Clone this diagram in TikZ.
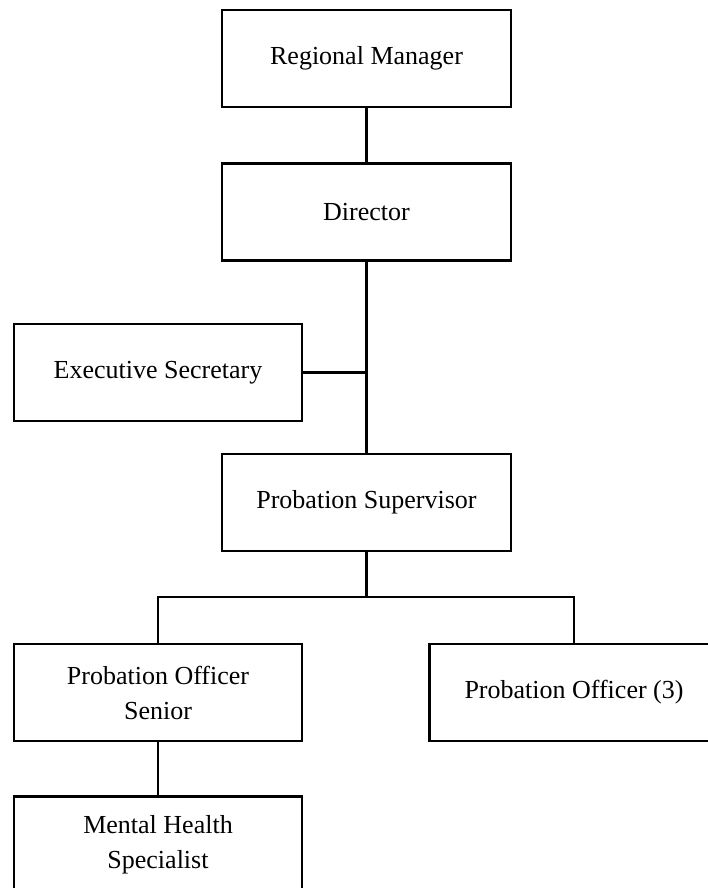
\documentclass[tikz,border=0pt]{standalone}
\usepackage{fontspec}
\setmainfont{Liberation Serif}

\begin{document}
\begin{tikzpicture}[x=1pt,y=1pt]
\tikzstyle{post}=[rectangle, draw, line width=2.4pt, minimum width=289pt, minimum height=97pt, inner sep=0pt, align=center, font=\fontsize{26}{35}\selectfont]
\tikzstyle{link}=[line width=2.4pt]
\useasboundingbox (0,0) rectangle (707,-888);

\node[post] (manager) at (366.5,-58.5) {Regional Manager};
\node[post] (director) at (366.5,-212) {Director};
\node[post, minimum width=288pt] (secretary) at (158,-372.5) {Executive Secretary};
\node[post] (supervisor) at (366.5,-502.5) {Probation Supervisor};
\node[post, minimum width=288pt] (senior) at (158,-692.5) {Probation Officer\\Senior};
\node[post] (officers) at (574,-692.5) {Probation Officer (3)};
\node[post, minimum width=288pt] (health) at (158,-845) {Mental Health\\Specialist};

\coordinate (split) at (366.5,-597);

\draw[link] (manager) -- (director);
\draw[link] (director) -- (supervisor);
\draw[link] (secretary) -- (secretary -| director);
\draw[link] (supervisor) -- (split) -| (senior);
\draw[link] (split) -| (officers);
\draw[link] (senior) -- (health);
  \end{tikzpicture}
\end{document}
